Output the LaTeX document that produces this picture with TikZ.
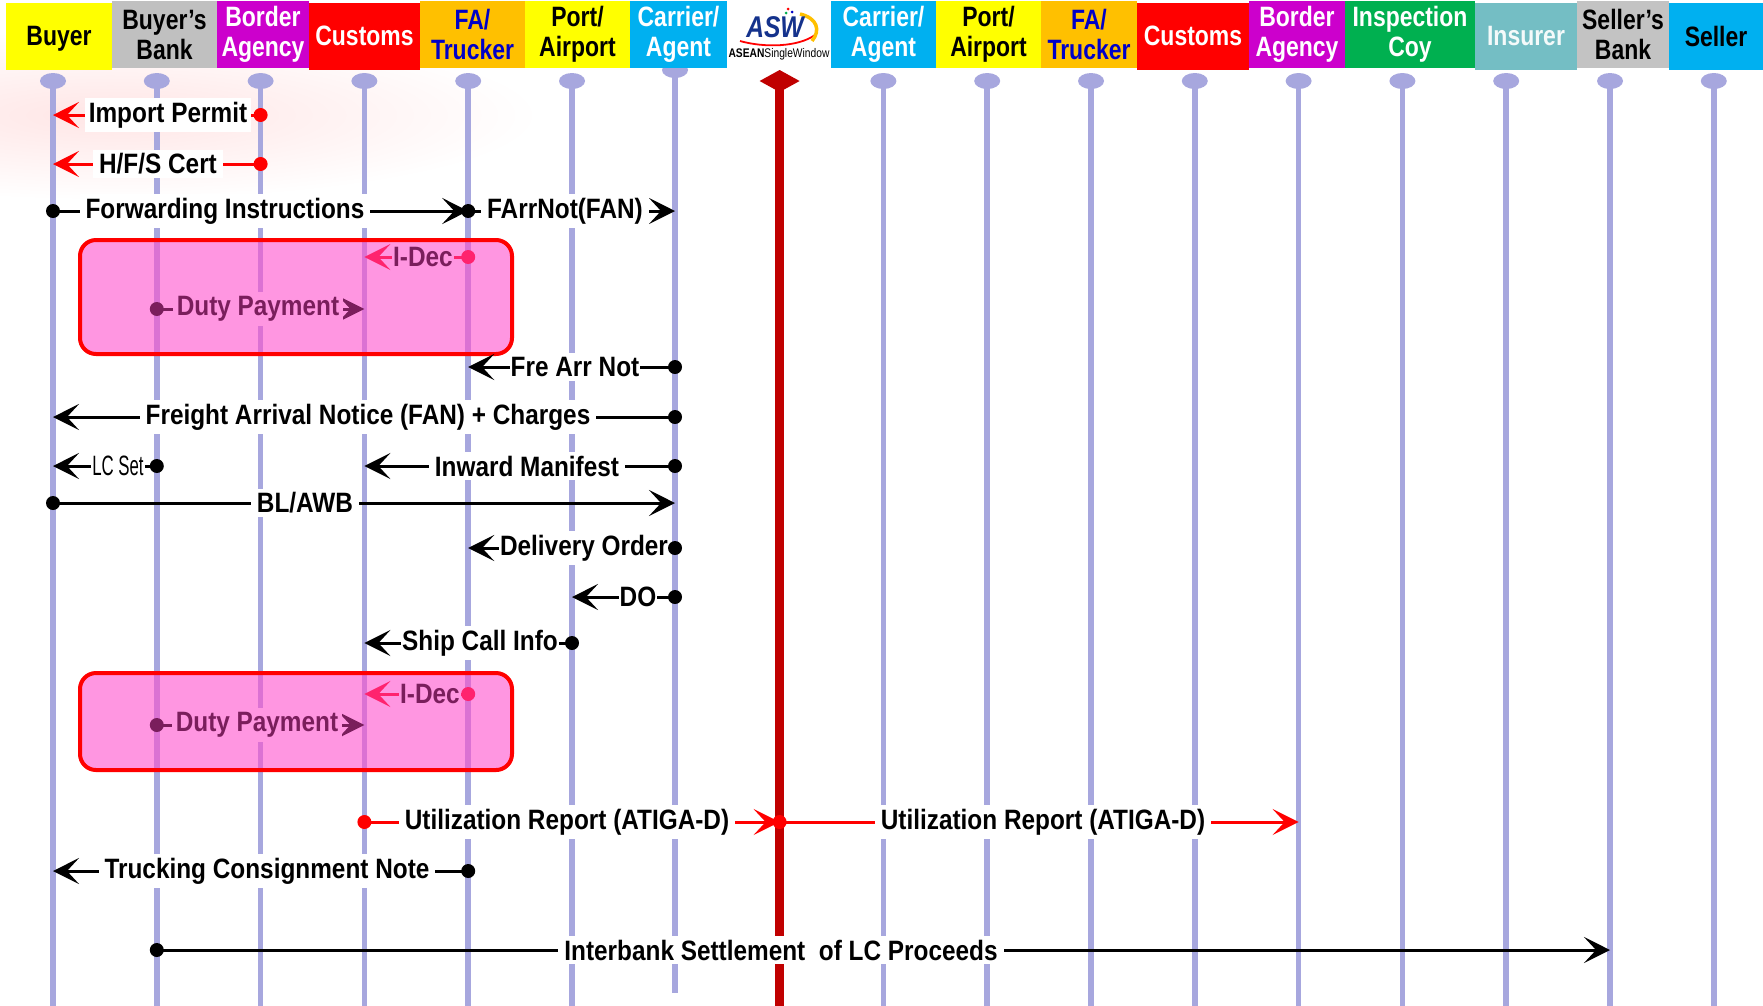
\documentclass[tikz,border=0pt]{standalone}
\usepackage{fontspec}
\setmainfont{Liberation Sans}[FakeStretch=0.82]
\newfontfamily\msgfont{Liberation Sans}[FakeStretch=0.87]
\newfontfamily\lcfont{Liberation Sans}[FakeStretch=0.6]
\usetikzlibrary{arrows.meta}
\definecolor{lifeline}{RGB}{167,167,222}
\definecolor{aswred}{RGB}{192,0,0}
\definecolor{aswblue}{RGB}{20,50,140}
\definecolor{boxpink}{RGB}{255,80,205}
\definecolor{boxpinkbg}{RGB}{255,150,225}
\definecolor{idecred}{RGB}{255,35,110}
\definecolor{dutypurple}{RGB}{122,30,92}

\begin{document}
\begin{tikzpicture}[x=1pt,y=-1pt,
    life/.style={draw=lifeline, line width=5.5pt},
    hbox/.style={minimum height=67pt, inner sep=0pt, align=center,
        font=\fontsize{28}{30}\selectfont\bfseries},
    oneline/.style={text depth=0pt, yshift=-1.5pt},
    msg/.style={line width=3pt, -{Stealth[length=26pt,width=26pt,inset=12pt]}},
    lbl/.style={fill=white, inner xsep=6pt, inner ysep=4pt,
        font=\msgfont\fontsize{28}{30}\selectfont\bfseries},
    pinklbl/.style={lbl, fill=boxpinkbg, text=dutypurple},
    dutybox/.style={draw=red, line width=4pt, rounded corners=16pt,
        fill=boxpink, fill opacity=0.6}]

    % Define colors for the parties
    \definecolor{hdyellow}{RGB}{255,255,0}
    \definecolor{hdgray}{RGB}{192,192,192}
    \definecolor{hdmagenta}{RGB}{204,0,204}
    \definecolor{hdred}{RGB}{255,0,0}
    \definecolor{hdorange}{RGB}{255,192,0}
    \definecolor{hdcyan}{RGB}{0,176,240}
    \definecolor{hdgreen}{RGB}{0,176,80}
    \definecolor{hdteal}{RGB}{116,190,196}
    \definecolor{hdblue}{RGB}{0,0,200}

    \useasboundingbox (0,0) rectangle (1763,1005);
    \fill[white] (0,0) rectangle (1763,1005);

    % Faint swoosh in the background
    \shade[inner color=red!10, outer color=white] (110,115) ellipse [x radius=430pt, y radius=85pt];

    % Lifelines (one every 103.8 px)
    \foreach \i in {0,...,16} {
        \pgfmathsetmacro{\x}{53+103.8*\i}
        \coordinate (L\i) at (\x,81);
    }
    \coordinate (L6) at (675,70);
    \foreach \i in {0,1,2,3,4,5,8,9,10,11,12,13,14,15,16} {
        \draw[life] (L\i) -- ++(0,930);
        \fill[lifeline] (L\i) ellipse [x radius=13pt, y radius=8pt];
    }
    \draw[life] (L6) -- ++(0,923);
    \fill[lifeline] (L6) ellipse [x radius=13pt, y radius=8pt];

    % ASW line
    \draw[aswred, line width=9pt] (L7) -- ++(0,930);
    \fill[aswred] (L7) ++(0,-11) -- ++(20,11) -- ++(-20,11) -- ++(-20,-11) -- cycle;

    % Header boxes
    \node[hbox, oneline, fill=hdyellow, minimum width=106pt] (hBuyer) at (59,34.5) {Buyer};
    \node[hbox, fill=hdgray, minimum width=105pt] (hBBank) at (164.5,34.5) {Buyer’s\\Bank};
    \node[hbox, fill=hdmagenta, text=white, minimum width=92pt] (hBorderA) at (263,34.5) {Border\\Agency};
    \node[hbox, oneline, fill=hdred, text=white, minimum width=111pt] (hCustomsA) at (364.5,34.5) {Customs};
    \node[hbox, fill=hdorange, text=hdblue, minimum width=105pt] (hFAA) at (472.5,34.5) {FA/\\Trucker};
    \node[hbox, fill=hdyellow, minimum width=105pt] (hPortA) at (577.5,34.5) {Port/\\Airport};
    \node[hbox, fill=hdcyan, text=white, minimum width=97pt] (hCarrierA) at (678.5,34.5) {Carrier/\\Agent};
    \node[hbox, fill=white, minimum width=104pt] (hASW) at (779,34.5) {};
    \node[hbox, fill=hdcyan, text=white, minimum width=105pt] (hCarrierB) at (883.5,34.5) {Carrier/\\Agent};
    \node[hbox, fill=hdyellow, minimum width=105pt] (hPortB) at (988.5,34.5) {Port/\\Airport};
    \node[hbox, fill=hdorange, text=hdblue, minimum width=96pt] (hFAB) at (1089,34.5) {FA/\\Trucker};
    \node[hbox, oneline, fill=hdred, text=white, minimum width=112pt] (hCustomsB) at (1193,34.5) {Customs};
    \node[hbox, fill=hdmagenta, text=white, minimum width=96pt] (hBorderB) at (1297,34.5) {Border\\Agency};
    \node[hbox, fill=hdgreen, text=white, minimum width=130pt] (hInspect) at (1410,34.5) {Inspection\\Coy};
    \node[hbox, oneline, fill=hdteal, text=white!92!hdteal, minimum width=102pt] (hInsurer) at (1526,34.5) {Insurer};
    \node[hbox, fill=hdgray!95!white, minimum width=92pt] (hSBank) at (1623,34.5) {Seller’s\\Bank};
    \node[hbox, oneline, fill=hdcyan, minimum width=94pt] (hSeller) at (1716,34.5) {Seller};

    % ASW logo
    \draw[red, line width=1.8pt] (740,41) .. controls (765,48) and (798,47) .. (815,35);
    \draw[hdorange, line width=3.5pt] (800,14) .. controls (817,18) and (821,30) .. (812,41);
    \node[text=aswblue, font=\fontsize{30}{30}\selectfont\bfseries\itshape] (aswText) at (775,27) {ASW};
    \fill[red] (788,9) circle (1.5pt);
    \fill[hdblue] (792,12) circle (1.5pt);
    \fill[hdgreen] (786,13) circle (1.5pt);
    \node[font=\fontsize{12.5}{13}\selectfont, inner sep=0pt] (aswName) at (779,54) {\textbf{ASEAN}SingleWindow};

    % Rows of the messages
    \coordinate (rPermit) at (0,115);
    \coordinate (rCert) at (0,164);
    \coordinate (rForward) at (0,211);
    \coordinate (rIDecA) at (0,257);
    \coordinate (rDutyA) at (0,309);
    \coordinate (rFreArr) at (0,367);
    \coordinate (rFAN) at (0,417);
    \coordinate (rManifest) at (0,466);
    \coordinate (rBL) at (0,503);
    \coordinate (rDelivery) at (0,548);
    \coordinate (rDO) at (0,597);
    \coordinate (rShip) at (0,643);
    \coordinate (rIDecB) at (0,694);
    \coordinate (rDutyB) at (0,725);
    \coordinate (rUtil) at (0,822);
    \coordinate (rTruck) at (0,871);
    \coordinate (rBank) at (0,950);

    % Permits from the border agency
    \draw[msg, red] (L2 |- rPermit) -- (L0 |- rPermit);
    \node[lbl, inner xsep=4pt] (tPermit) at (168,115) {Import Permit};
    \fill[red] (L2 |- rPermit) circle (7pt);
    \draw[msg, red] (L2 |- rCert) -- (L0 |- rCert);
    \node[lbl] (tCert) at (158,164) {H/F/S Cert};
    \fill[red] (L2 |- rCert) circle (7pt);

    % Forwarding
    \draw[msg] (L0 |- rForward) -- (L4 |- rForward);
    \node[lbl] (tForward) at (225,211) {Forwarding Instructions};
    \fill (L0 |- rForward) circle (7pt);
    \draw[msg] (L4 |- rForward) -- (L6 |- rForward);
    \node[lbl] (tFArrNot) at (565,211) {FArrNot(FAN)};
    \fill (L4 |- rForward) circle (7pt);

    % First declaration and duty payment
    \node[dutybox, minimum width=432pt, minimum height=114pt] (dutyA) at (296,297) {};
    \draw[msg, idecred] (L4 |- rIDecA) -- (L3 |- rIDecA);
    \node[pinklbl, inner xsep=1pt] (tIDecA) at (423,257) {I-Dec};
    \fill[idecred] (L4 |- rIDecA) circle (7pt);
    \draw[msg, dutypurple] (L1 |- rDutyA) -- (L3 |- rDutyA);
    \node[pinklbl, inner xsep=4pt] (tDutyA) at (258,309) {Duty Payment};
    \fill[dutypurple] (L1 |- rDutyA) circle (7pt);

    % Arrival of the freight
    \draw[msg] (L6 |- rFreArr) -- (L4 |- rFreArr);
    \node[lbl, inner xsep=1pt] (tFreArr) at (575,367) {Fre Arr Not};
    \fill (L6 |- rFreArr) circle (7pt);
    \draw[msg] (L6 |- rFAN) -- (L0 |- rFAN);
    \node[lbl] (tFAN) at (368,417) {Freight Arrival Notice (FAN) + Charges};
    \fill (L6 |- rFAN) circle (7pt);
    \draw[msg] (L1 |- rManifest) -- (L0 |- rManifest);
    \node[lbl, inner xsep=1pt, font=\lcfont\fontsize{28}{28}\selectfont] (tLCSet) at (118,466) {LC Set};
    \fill (L1 |- rManifest) circle (7pt);
    \draw[msg] (L6 |- rManifest) -- (L3 |- rManifest);
    \node[lbl] (tManifest) at (527,466) {Inward Manifest};
    \fill (L6 |- rManifest) circle (7pt);
    \draw[msg] (L0 |- rBL) -- (L6 |- rBL);
    \node[lbl] (tBL) at (305,503) {BL/AWB};
    \fill (L0 |- rBL) circle (7pt);
    \draw[msg] (L6 |- rDelivery) -- (L4 |- rDelivery);
    \node[lbl, inner xsep=1pt] (tDelivery) at (584,548) {Delivery Order};
    \fill (L6 |- rDelivery) circle (7pt);
    \draw[msg] (L6 |- rDO) -- (L5 |- rDO);
    \node[lbl, inner xsep=1pt] (tDO) at (638,597) {DO};
    \fill (L6 |- rDO) circle (7pt);
    \draw[msg] (L5 |- rShip) -- (L3 |- rShip);
    \node[lbl, inner xsep=1pt] (tShip) at (480,643) {Ship Call Info};
    \fill (L5 |- rShip) circle (7pt);

    % Second declaration and duty payment
    \node[dutybox, minimum width=432pt, minimum height=97pt] (dutyB) at (296,721.5) {};
    \draw[msg, idecred] (L4 |- rIDecB) -- (L3 |- rIDecB);
    \node[pinklbl, inner xsep=1pt] (tIDecB) at (430,694) {I-Dec};
    \fill[idecred] (L4 |- rIDecB) circle (7pt);
    \draw[msg, dutypurple] (L1 |- rDutyB) -- (L3 |- rDutyB);
    \node[pinklbl, inner xsep=4pt] (tDutyB) at (257,725) {Duty Payment};
    \fill[dutypurple] (L1 |- rDutyB) circle (7pt);

    % Utilization report through the ASW
    \draw[msg, red] (L3 |- rUtil) -- (L7 |- rUtil);
    \node[lbl] (tUtilA) at (567,822) {Utilization Report (ATIGA-D)};
    \fill[red] (L3 |- rUtil) circle (7pt);
    \draw[msg, red] (L7 |- rUtil) -- (L12 |- rUtil);
    \node[lbl] (tUtilB) at (1043,822) {Utilization Report (ATIGA-D)};
    \fill[red] (L7 |- rUtil) circle (7pt);

    % Trucking and settlement
    \draw[msg] (L4 |- rTruck) -- (L0 |- rTruck);
    \node[lbl] (tTruck) at (267,871) {Trucking Consignment Note};
    \fill (L4 |- rTruck) circle (7pt);
    \draw[msg] (L1 |- rBank) -- (L15 |- rBank);
    \node[lbl] (tBank) at (781,950) {Interbank Settlement\ \ of LC Proceeds};
    \fill (L1 |- rBank) circle (7pt);

\end{tikzpicture}
\end{document}
